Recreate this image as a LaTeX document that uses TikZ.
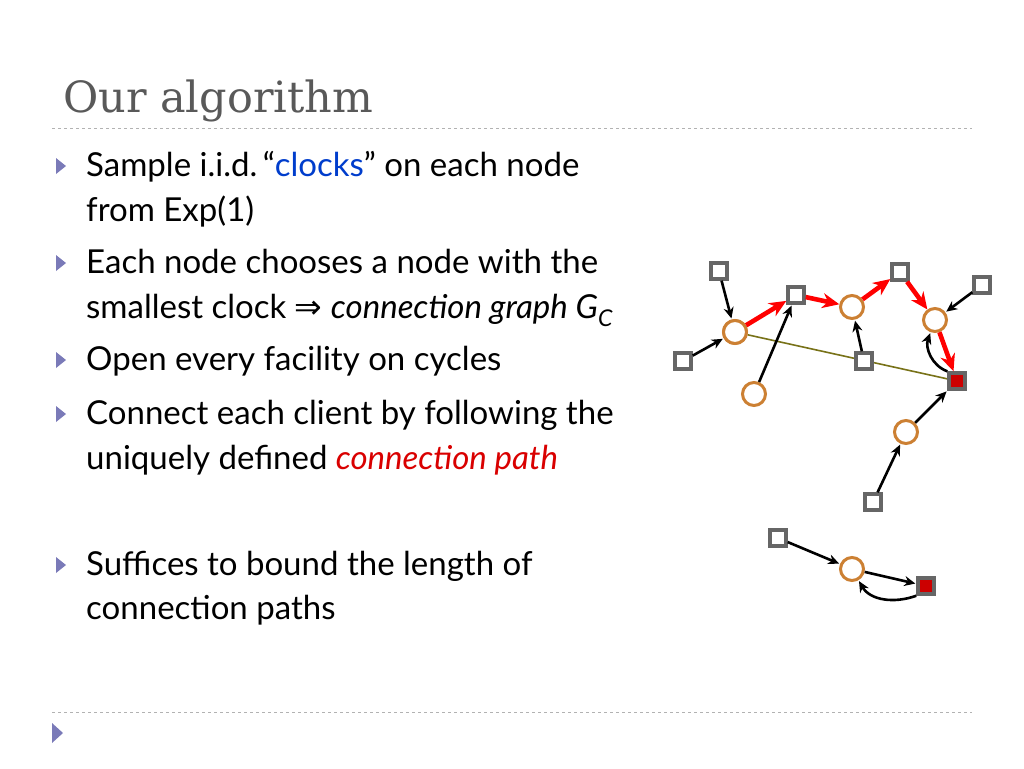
\documentclass[tikz,border=0pt]{standalone}
\usepackage{fontspec}
\setmainfont{Lato}
\newfontfamily\titlefont{DejaVu Serif}
\newfontfamily\symfont{DejaVu Sans}
\usetikzlibrary{arrows.meta}
\begin{document}
\begin{tikzpicture}[x=1pt,y=-1pt,
  sq/.style={draw=black!60,line width=3.4pt,fill=white,minimum size=16pt,inner sep=0pt},
  fac/.style={sq,fill=red!80!black},
  cl/.style={circle,draw=brown!80!orange,line width=3pt,fill=white,minimum size=23pt,inner sep=0pt},
  ba/.style={-{Stealth[length=11pt,width=10pt]},line width=2.6pt,shorten >=1pt},
  ra/.style={-{Stealth[length=17pt,width=15pt]},line width=4.6pt,red},
  bul/.style={fill=blue!30!gray!80,draw=none},
  txt/.style={anchor=base west,inner sep=0pt,font=\fontsize{33}{34}\selectfont}]
\useasboundingbox (0,0) rectangle (1024,768);
\node[anchor=base west,inner sep=0pt,font=\titlefont\fontsize{43}{46}\selectfont,text=black!65] (title) at (63,112) {Our algorithm};
\draw[black!30,dashed,line width=1pt] (52,128) -- (972,128);
\draw[black!30,dashed,line width=1pt] (52,712) -- (972,712);
\foreach \y in {166,263,360,414,565}{\fill[bul] (56,\y-8) -- (66,\y) -- (56,\y+8) -- cycle;}
\fill[bul] (52,723) -- (63,733) -- (52,743) -- cycle;
\node[txt] (t1) at (86,176) {Sample i.i.d.\,``\textcolor{blue!70!cyan!80!black}{clocks}'' on each node};
\node[txt] (t2) at (86,221) {from Exp(1)};
\node[txt] (t3) at (86,273) {Each node chooses a node with the};
\node[txt] (t4) at (86,318) {smallest clock {\symfont ⇒} \textit{connection graph G}\textsubscript{\textit{C}}};
\node[txt] (t5) at (86,370) {Open every facility on cycles};
\node[txt] (t6) at (86,424) {Connect each client by following the};
\node[txt] (t7) at (86,469) {uniquely defined \textcolor{red!85!black}{\textit{connection path}}};
\node[txt] (t8) at (86,575) {Suffices to bound the length of};
\node[txt] (t9) at (86,619) {connection paths};
% graph
\node[sq] (s1) at (719,271) {};
\node[sq] (s2) at (796,295) {};
\node[sq] (s3) at (900,272) {};
\node[sq] (s4) at (982,285) {};
\node[sq] (s5) at (683,361) {};
\node[sq] (s6) at (864,361) {};
\node[sq] (s7) at (873,502) {};
\node[sq] (s8) at (778,538) {};
\node[fac] (f1) at (957,381) {};
\node[fac] (f2) at (926,586) {};
\node[cl] (c1) at (735,332) {};
\node[cl] (c2) at (852,307) {};
\node[cl] (c3) at (935,320) {};
\node[cl] (c4) at (754,394) {};
\node[cl] (c5) at (906,432) {};
\node[cl] (c6) at (852,569) {};
\draw[olive!80!black,line width=1.6pt] (c1) -- (f1);
\node[sq] at (864,361) {};
\node[fac] at (957,381) {};
\node[cl] at (735,332) {};
\draw[ba] (s1) -- (c1);
\draw[ba] (s5) -- (c1);
\draw[ba] (c4) -- (s2);
\draw[ba] (s6) -- (c2);
\draw[ba] (s4) -- (c3);
\draw[ba] (f1.north west) to[out=160,in=-110] (c3);
\draw[ba] (c5) -- (f1);
\draw[ba] (s7) -- (c5);
\draw[ba] (s8) -- (c6);
\draw[ba] (c6) -- (f2);
\draw[ba] (f2.south west) to[out=200,in=-60] (c6);
\draw[ra] (c1) -- (s2);
\draw[ra] (s2) -- (c2);
\draw[ra] (c2) -- (s3);
\draw[ra] (s3) -- (c3);
\draw[ra] (c3) -- (f1);
\end{tikzpicture}
\end{document}
